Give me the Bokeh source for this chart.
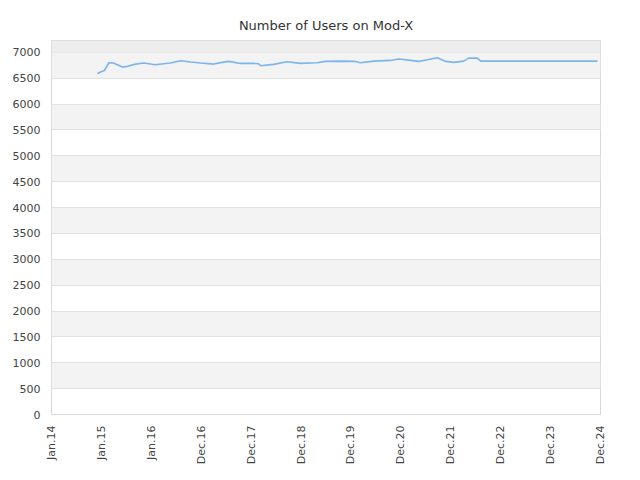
import math
from bokeh.plotting import figure
from bokeh.models import FixedTicker, BoxAnnotation, Range1d
from bokeh.embed import file_html
from bokeh.resources import INLINE

tick_labels = ["Jan.14", "Jan.15", "Jan.16", "Dec.16", "Dec.17", "Dec.18",
               "Dec.19", "Dec.20", "Dec.21", "Dec.22", "Dec.23", "Dec.24"]

# x positions expressed in tick-index units of the (index-based) date axis
x_pos = [0.92, 0.98, 1.06, 1.15, 1.24, 1.42, 1.52, 1.65, 1.85, 2.08, 2.38, 2.59,
         2.79, 2.99, 3.25, 3.42, 3.55, 3.79, 4.05, 4.15, 4.19, 4.45, 4.72, 4.99,
         5.32, 5.49, 5.79, 6.09, 6.19, 6.46, 6.79, 6.96, 7.19, 7.36, 7.53, 7.73,
         7.90, 8.06, 8.26, 8.36, 8.53, 8.60, 10.94]
users = [6588, 6620, 6650, 6800, 6795, 6716, 6730, 6768, 6794, 6762, 6794, 6840,
         6813, 6794, 6774, 6807, 6826, 6787, 6787, 6781, 6742, 6768, 6820, 6787,
         6800, 6826, 6832, 6826, 6800, 6832, 6845, 6871, 6845, 6826, 6858, 6897,
         6826, 6807, 6832, 6890, 6890, 6832, 6832]

y_ticks = list(range(0, 7001, 500))

p = figure(width=640, height=480, output_backend="svg", toolbar_location=None,
           title="Number of Users on Mod-X",
           x_range=Range1d(0, len(tick_labels) - 1), y_range=Range1d(0, 7230),
           min_border_left=51, min_border_right=40, min_border_bottom=66,
           min_border_top=40)

p.title.align = "center"
p.title.text_font = "DejaVu Sans"
p.title.text_font_size = "13px"
p.title.text_font_style = "normal"
p.title.text_color = "#333333"
p.title.standoff = 16

p.outline_line_color = "#d8d8d8"
p.outline_line_width = 1

p.add_layout(BoxAnnotation(bottom=7000, top=7230, fill_color="#ededed", fill_alpha=1,
                           line_color=None, level="underlay"))

p.line(x_pos, users, line_color="#7cb5ec", line_width=1.6)

p.xaxis.ticker = FixedTicker(ticks=list(range(len(tick_labels))))
p.xaxis.major_label_overrides = {i: t for i, t in enumerate(tick_labels)}
p.xaxis.major_label_orientation = math.pi / 2
p.yaxis.ticker = FixedTicker(ticks=y_ticks)

for ax in (p.xaxis, p.yaxis):
    ax.major_label_text_font = "DejaVu Sans"
    ax.major_label_text_font_size = "11px"
    ax.major_label_text_color = "#444444"
    ax.minor_tick_line_color = None
    ax.major_tick_line_color = None
p.yaxis.axis_line_color = None
p.xaxis.axis_line_color = "#d8d8d8"

p.xgrid.grid_line_color = None
p.ygrid.grid_line_color = "#e2e2e2"
p.ygrid.band_fill_color = "#f3f3f3"
p.ygrid.band_fill_alpha = 1

open("out.html", "w").write(file_html(p, INLINE))
